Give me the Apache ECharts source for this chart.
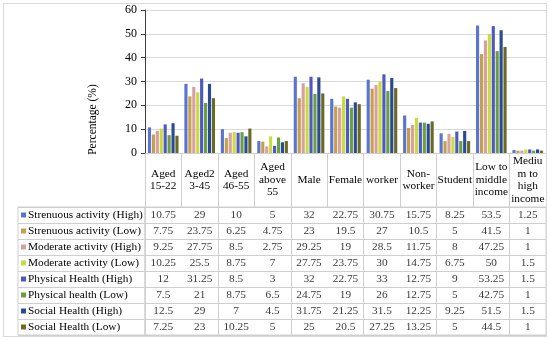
<!DOCTYPE html>
<html><head><meta charset="utf-8">
<script src="https://cdn.jsdelivr.net/npm/echarts@6/dist/echarts.min.js"></script>
<style>
html,body{margin:0;padding:0;background:#fff}
#wrap{position:relative;width:550px;height:340px}
#c{width:550px;height:340px}
#frame{position:absolute;left:3px;top:3px;width:542px;height:332px;border:1px solid #d9d9d9;pointer-events:none}
</style>
</head><body>
<div id="wrap"><div id="c"></div><div id="frame"></div></div>
<script>
const categories = ["Aged\n15-22","Aged2\n3-45","Aged\n46-55","Aged\nabove\n55","Male","Female","worker","Non-\nworker","Student","Low to\nmiddle\nincome","Mediu\nm to\nhigh\nincome"];
const seriesNames = ["Strenuous activity (High)","Strenuous activity (Low)","Moderate activity (High)","Moderate activity (Low)","Physical Health (High)","Physical health (Low)","Social Health (High)","Social Health (Low)"];
const strenuousHigh = [10.75,29,10,5,32,22.75,30.75,15.75,8.25,53.5,1.25];
const strenuousLow  = [7.75,23.75,6.25,4.75,23,19.5,27,10.5,5,41.5,1];
const moderateHigh  = [9.25,27.75,8.5,2.75,29.25,19,28.5,11.75,8,47.25,1];
const moderateLow   = [10.25,25.5,8.75,7,27.75,23.75,30,14.75,6.75,50,1.5];
const physicalHigh  = [12,31.25,8.5,3,32,22.75,33,12.75,9,53.25,1.5];
const physicalLow   = [7.5,21,8.75,6.5,24.75,19,26,12.75,5,42.75,1];
const socialHigh    = [12.5,29,7,4.5,31.75,21.25,31.5,12.25,9.25,51.5,1.5];
const socialLow     = [7.25,23,10.25,5,25,20.5,27.25,13.25,5,44.5,1];
const yAxisMin = 0, yAxisMax = 60, yAxisStep = 10;

const seriesValues = [strenuousHigh,strenuousLow,moderateHigh,moderateLow,physicalHigh,physicalLow,socialHigh,socialLow];
const colors = ['#5B74D0','#C4A04E','#D8A0A0','#C8DC3C','#4E58C4','#6A9E42','#2B4A94','#6B6A22'];
const FONT = "'Liberation Serif','Times New Roman',serif";
const LINE = '#cfcfcf';

const rich = {};
colors.forEach((c,i)=>{ rich['m'+i] = {width:5,height:5,backgroundColor:c}; });
rich.t = {fontFamily:FONT,fontSize:11.3,color:'#000',padding:[0,0,0,2]};

const barSeries = seriesNames.map((n,i)=>({
  name:n, type:'bar', xAxisIndex:0, yAxisIndex:0,
  data: seriesValues[i], barGap:'25%', barCategoryGap:'16%',
  itemStyle:{color:colors[i]}, silent:true
}));

const tableData = [];
seriesValues.forEach((arr,si)=>arr.forEach((v,ci)=>tableData.push([ci,si,v])));

const chart = echarts.init(document.getElementById('c'), null, {renderer:'canvas'});
chart.setOption({
  animation:false,
  backgroundColor:'#fff',
  grid:[
    {left:145,right:4,top:10,height:143},
    {left:18,width:127,top:207,height:128,show:true,borderColor:LINE,borderWidth:1},
    {left:145,right:4,top:207,height:128,show:true,borderColor:LINE,borderWidth:1}
  ],
  xAxis:[
    {type:'category',gridIndex:0,data:categories,
     axisLine:{lineStyle:{color:LINE}},
     axisTick:{show:true,length:54,lineStyle:{color:LINE}},
     axisLabel:{margin:27,verticalAlign:'middle',lineHeight:12.5,fontFamily:FONT,fontSize:11.3,color:'#000',interval:0}},
    {type:'value',gridIndex:1,show:false},
    {type:'category',gridIndex:2,data:categories,
     axisLine:{show:false},axisTick:{show:false},axisLabel:{show:false},
     splitLine:{show:true,lineStyle:{color:LINE}}}
  ],
  yAxis:[
    {type:'value',gridIndex:0,min:yAxisMin,max:yAxisMax,interval:yAxisStep,
     name:'Percentage (%)',nameLocation:'middle',nameGap:46,
     nameTextStyle:{fontFamily:FONT,fontSize:11.5,color:'#000',padding:[0,76,0,0]},
     axisLine:{show:true,lineStyle:{color:'#404040'}},
     axisTick:{show:true,length:4,lineStyle:{color:'#404040'}},
     axisLabel:{fontFamily:FONT,fontSize:12,color:'#000',margin:8},
     splitLine:{lineStyle:{color:'#d9d9d9'}}},
    {type:'category',gridIndex:1,data:seriesNames,inverse:true,
     axisLine:{show:false},axisTick:{show:false},
     splitLine:{show:true,lineStyle:{color:LINE}},
     axisLabel:{inside:true,margin:3,formatter:(v,i)=>'{m'+i+'|}{t|'+v+'}',rich:rich}},
    {type:'category',gridIndex:2,data:seriesNames,inverse:true,
     axisLine:{show:false},axisTick:{show:false},axisLabel:{show:false},
     splitLine:{show:true,lineStyle:{color:LINE}}}
  ],
  series: barSeries.concat([{
    type:'scatter',xAxisIndex:2,yAxisIndex:2,data:tableData,symbolSize:1,
    itemStyle:{color:'rgba(0,0,0,0)'},silent:true,
    label:{show:true,position:'inside',formatter:p=>String(p.value[2]),fontFamily:FONT,fontSize:11.3,color:'#000'}
  }])
});
</script></body></html>
